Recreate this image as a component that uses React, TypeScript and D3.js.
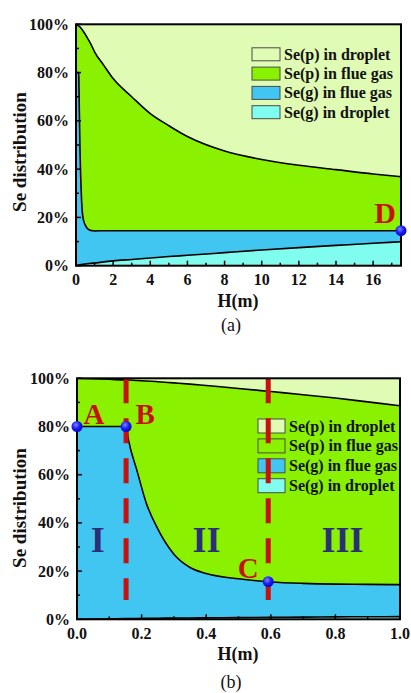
import React from 'react';
import * as d3 from 'd3';

// Height above the spray inlet, m
const heights = [0, 0.05, 0.1, 0.152, 0.16, 0.185, 0.215, 0.25, 0.3, 0.35, 0.4, 0.5, 0.6, 0.7, 0.8, 0.9, 1.0, 1.5, 2, 3, 4, 5, 6, 8, 10, 12, 14, 16, 17.5];

// Share of total Se in each state, %
const gasDroplet = [0, 0.1, 0.2, 0.3, 0.3, 0.35, 0.4, 0.45, 0.5, 0.55, 0.6, 0.7, 0.8, 0.9, 1.0, 1.05, 1.1, 1.6, 2.0, 2.6, 3.2, 3.8, 4.3, 5.4, 6.5, 7.5, 8.4, 9.3, 9.9];
const gasFlue = [80, 79.9, 79.8, 79.7, 73.7, 61.65, 47.6, 37.05, 26.5, 20.95, 18.4, 16.1, 14.7, 14.0, 13.6, 13.45, 13.3, 12.9, 12.5, 11.9, 11.3, 10.7, 10.2, 9.1, 8.0, 7.0, 6.1, 5.2, 4.6];
const particleFlue = [20, 19.8, 19.6, 19.3, 25.3, 37.1, 50.9, 61.1, 71.1, 76.1, 78, 79, 79, 78.3, 77.2, 75.7, 74.2, 68.5, 63, 55.5, 48.5, 43.5, 39, 33, 29.5, 27.1, 25.3, 23.5, 22.4];
const particleDroplet = [0, 0.2, 0.4, 0.7, 0.7, 0.9, 1.1, 1.4, 1.9, 2.4, 3, 4.2, 5.5, 6.8, 8.2, 9.8, 11.4, 17, 22.5, 30, 37, 42, 46.5, 52.5, 56, 58.4, 60.2, 62, 63.1];

const layerKeys = ['gasDroplet', 'gasFlue', 'particleFlue', 'particleDroplet'];
const layerNames = ['Se(g) in droplet', 'Se(g) in flue gas', 'Se(p) in flue gas', 'Se(p) in droplet'];
const layerColors = ['#80fdee', '#41c6f1', '#8af200', '#e0fbb4'];

const yTicks = [0, 20, 40, 60, 80, 100];
const yMinor = [10, 30, 50, 70, 90];
const xTicksFull = [0, 2, 4, 6, 8, 10, 12, 14, 16];
const xMinorFull = [1, 3, 5, 7, 9, 11, 13, 15, 17];
const xTicksNear = [0, 0.2, 0.4, 0.6, 0.8, 1.0];
const xMinorNear = [0.1, 0.3, 0.5, 0.7, 0.9];

// Marked states
const pointsFull = [{ label: 'D', h: 17.5, v: 14.5 }];
const pointsNear = [
  { label: 'A', h: 0, v: 80 },
  { label: 'B', h: 0.152, v: 80 },
  { label: 'C', h: 0.592, v: 15.6 },
];
const stageBounds = [0.152, 0.592];
const stageNames = ['I', 'II', 'III'];
const stageCenters = [0.064, 0.401, 0.822];

const rows = heights.map((h, i) => ({
  h,
  gasDroplet: gasDroplet[i],
  gasFlue: gasFlue[i],
  particleFlue: particleFlue[i],
  particleDroplet: particleDroplet[i],
}));
const stacked = d3.stack<any>().keys(layerKeys)(rows as any);

const SERIF = '"Liberation Serif", "Times New Roman", "DejaVu Serif", serif';

type Frame = { l: number; r: number; t: number; b: number };

function Panel(props: {
  id: string;
  frame: Frame;
  xMax: number;
  xMajor: number[];
  xMinor: number[];
  xFmt: (v: number) => string;
  legend: { x: number; y: number; step: number; w: number; h: number };
  caption: string;
  captionY: number;
  titleY: number;
  children?: (x: d3.ScaleLinear<number, number>, y: d3.ScaleLinear<number, number>) => React.ReactNode;
  overLegend?: (x: d3.ScaleLinear<number, number>, y: d3.ScaleLinear<number, number>) => React.ReactNode;
}) {
  const { id, frame, xMax, xMajor, xMinor, xFmt, legend } = props;
  const x = d3.scaleLinear().domain([0, xMax]).range([frame.l, frame.r]);
  const y = d3.scaleLinear().domain([0, 100]).range([frame.b, frame.t]);
  const area = d3
    .area<any>()
    .x((d) => x(d.data.h))
    .y0((d) => y(d[0]))
    .y1((d) => y(d[1]))
    .curve(d3.curveMonotoneX);
  const line = d3
    .line<any>()
    .x((d) => x(d.data.h))
    .y((d) => y(d[1]))
    .curve(d3.curveMonotoneX);
  const legendOrder = [3, 2, 1, 0];

  return (
    <g>
      <defs>
        <clipPath id={`clip-${id}`}>
          <rect x={frame.l} y={frame.t} width={frame.r - frame.l} height={frame.b - frame.t} />
        </clipPath>
      </defs>
      <g clipPath={`url(#clip-${id})`}>
        {stacked.map((s, i) => (
          <path key={i} d={area(s as any) || ''} fill={layerColors[i]} />
        ))}
        {stacked.slice(0, 3).map((s, i) => (
          <path key={i} d={line(s as any) || ''} fill="none" stroke="#000" strokeWidth={1.6} />
        ))}
        {props.children && props.children(x, y)}
      </g>
      {/* legend */}
      <g fontFamily={SERIF} fontWeight="bold" fontSize={16}>
        {legendOrder.map((k, i) => {
          const cy = legend.y + i * legend.step;
          return (
            <g key={k}>
              <rect
                x={legend.x}
                y={cy - legend.h / 2}
                width={legend.w}
                height={legend.h}
                fill={layerColors[k]}
                stroke="#4a4a4a"
                strokeWidth={1}
              />
              <text x={legend.x + legend.w + 4} y={cy + 5.5} fill="#111">
                {layerNames[k]}
              </text>
            </g>
          );
        })}
      </g>
      <g clipPath={`url(#clip-${id})`}>{props.overLegend && props.overLegend(x, y)}</g>
      {/* axes frame and inward ticks */}
      <rect
        x={frame.l}
        y={frame.t}
        width={frame.r - frame.l}
        height={frame.b - frame.t}
        fill="none"
        stroke="#000"
        strokeWidth={2}
      />
      <g stroke="#000" strokeWidth={1.5}>
        {yTicks.map((v) => (
          <line key={`ym${v}`} x1={frame.l} x2={frame.l + 5} y1={y(v)} y2={y(v)} />
        ))}
        {yMinor.map((v) => (
          <line key={`yn${v}`} x1={frame.l} x2={frame.l + 3} y1={y(v)} y2={y(v)} />
        ))}
        {xMajor.map((v) => (
          <line key={`xm${v}`} x1={x(v)} x2={x(v)} y1={frame.b} y2={frame.b - 5} />
        ))}
        {xMinor.map((v) => (
          <line key={`xn${v}`} x1={x(v)} x2={x(v)} y1={frame.b} y2={frame.b - 3} />
        ))}
      </g>
      <g fontFamily={SERIF} fontWeight="bold" fontSize={16} fill="#111">
        {yTicks.map((v) => (
          <text key={v} x={frame.l - 7} y={y(v) + 5.5} textAnchor="end">
            {`${v}%`}
          </text>
        ))}
        {xMajor.map((v) => (
          <text key={v} x={x(v)} y={frame.b + 19.5} textAnchor="middle">
            {xFmt(v)}
          </text>
        ))}
      </g>
      <text
        x={238}
        y={frame.b + 41}
        textAnchor="middle"
        fontFamily={SERIF}
        fontWeight="bold"
        fontSize={18}
        fill="#111"
      >
        H(m)
      </text>
      <text
        transform={`translate(26,${props.titleY}) rotate(-90)`}
        textAnchor="middle"
        fontFamily={SERIF}
        fontWeight="bold"
        fontSize={19}
        fill="#111"
      >
        Se distribution
      </text>
      <text x={231} y={props.captionY} textAnchor="middle" fontFamily={SERIF} fontSize={18} fill="#111">
        {props.caption}
      </text>
    </g>
  );
}

function Dot({ cx, cy }: { cx: number; cy: number }) {
  return <circle cx={cx} cy={cy} r={5.5} fill="url(#ballGrad)" />;
}

export default function App() {
  const frameA: Frame = { l: 76, r: 401, t: 24.3, b: 265.7 };
  const frameB: Frame = { l: 77, r: 400, t: 378.3, b: 619.3 };
  const red = '#c8100f';
  return (
    <svg
      width={411}
      height={693}
      viewBox="0 0 411 693"
      style={{ position: 'absolute', left: 0, top: 0, display: 'block', background: '#fff' }}
    >
      <defs>
        <radialGradient id="ballGrad" cx="40%" cy="35%" r="65%">
          <stop offset="0%" stopColor="#7b86ff" />
          <stop offset="55%" stopColor="#1a1af5" />
          <stop offset="100%" stopColor="#0707c0" />
        </radialGradient>
      </defs>

      <Panel
        id="full"
        frame={frameA}
        xMax={17.5}
        xMajor={xTicksFull}
        xMinor={xMinorFull}
        xFmt={(v) => String(v)}
        legend={{ x: 252, y: 54.3, step: 19.3, w: 28, h: 13 }}
        caption="(a)"
        captionY={331}
        titleY={152}
      />
      {pointsFull.map((p) => {
        const x = d3.scaleLinear().domain([0, 17.5]).range([frameA.l, frameA.r]);
        const y = d3.scaleLinear().domain([0, 100]).range([frameA.b, frameA.t]);
        return (
          <g key={p.label}>
            <text
              x={x(p.h) - 16}
              y={y(p.v) - 8}
              textAnchor="middle"
              fontFamily={SERIF}
              fontWeight="bold"
              fontSize={30}
              fill={red}
            >
              {p.label}
            </text>
            <Dot cx={x(p.h)} cy={y(p.v)} />
          </g>
        );
      })}

      <Panel
        id="near"
        frame={frameB}
        xMax={1.0}
        xMajor={xTicksNear}
        xMinor={xMinorNear}
        xFmt={(v) => v.toFixed(1)}
        legend={{ x: 258, y: 426, step: 19.9, w: 27, h: 14 }}
        caption="(b)"
        captionY={688}
        titleY={508}
        children={(x) => (
          <g fontFamily={SERIF} fontWeight="bold" fontSize={36} fill="#2a2f78" textAnchor="middle">
            {stageNames.map((s, i) => (
              <text key={s} x={x(stageCenters[i])} y={551.7}>
                {s}
              </text>
            ))}
          </g>
        )}
        overLegend={(x, y) => (
          <g>
            {stageBounds.map((h) => (
              <line
                key={h}
                x1={x(h)}
                x2={x(h)}
                y1={y(100)}
                y2={y(8)}
                stroke={red}
                strokeWidth={5}
                strokeDasharray="25 15"
              />
            ))}
          </g>
        )}
      />
      {pointsNear.map((p) => {
        const x = d3.scaleLinear().domain([0, 1]).range([frameB.l, frameB.r]);
        const y = d3.scaleLinear().domain([0, 100]).range([frameB.b, frameB.t]);
        const dx = p.label === 'C' ? -20 : p.label === 'B' ? 19 : 17;
        const dy = p.label === 'C' ? -4 : -3;
        return (
          <g key={p.label}>
            <text
              x={x(p.h) + dx}
              y={y(p.v) + dy}
              textAnchor="middle"
              fontFamily={SERIF}
              fontWeight="bold"
              fontSize={29}
              fill={red}
            >
              {p.label}
            </text>
            <Dot cx={x(p.h)} cy={y(p.v)} />
          </g>
        );
      })}
    </svg>
  );
}
